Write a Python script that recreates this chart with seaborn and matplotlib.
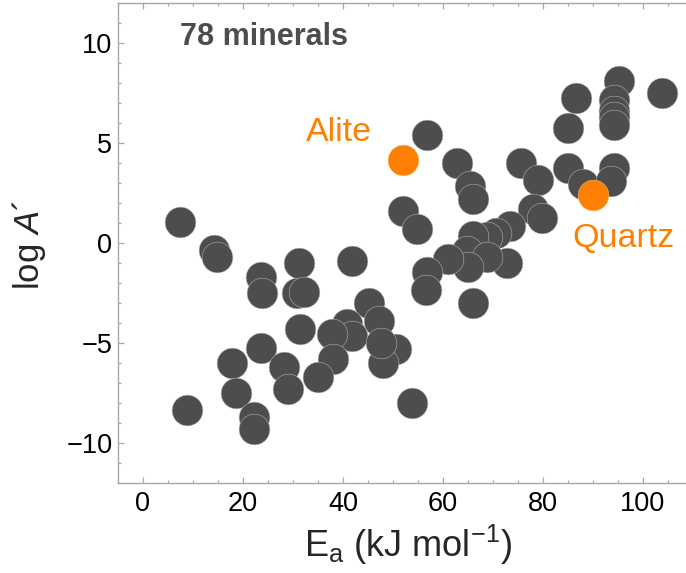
import matplotlib
matplotlib.use("Agg")
import matplotlib.pyplot as plt
import seaborn as sns
import pandas as pd
from matplotlib.ticker import MultipleLocator

# ---- data ----
mineral_ea = [7.3, 14.1, 14.7, 23.5, 23.7, 31.1, 30.8, 32.1, 41.9, 31.4,
              45.1, 47.1, 40.7, 41.8, 37.8, 50.6, 48.0, 47.5, 23.5, 17.9,
              28.2, 37.95, 34.9, 29.0, 18.6, 8.7, 53.8, 22.1, 22.2,
              56.9, 62.8, 65.5, 66.1, 52.1, 54.8, 75.5, 79.1, 84.9, 88.1,
              94.3, 93.5, 85.0, 86.5, 95.2, 94.3, 94.3, 94.3, 94.3, 103.8,
              78.1, 79.8, 73.5, 70.6, 68.8, 66.1, 64.8, 72.8, 68.8, 65.0,
              61.1, 56.9, 56.7, 66.1]
mineral_logA = [1.07, -0.35, -0.7, -1.68, -2.5, -1.02, -2.48, -2.43, -0.9, -4.3,
                -3.0, -3.92, -4.05, -4.65, -4.55, -5.3, -6.0, -5.0, -5.27, -6.0,
                -6.2, -5.8, -6.68, -7.3, -7.5, -8.35, -8.0, -8.68, -9.3,
                5.4, 3.98, 2.85, 2.2, 1.62, 0.7, 3.98, 3.15, 3.73, 2.95,
                3.77, 3.1, 5.75, 7.23, 8.1, 7.15, 6.6, 6.3, 5.9, 7.48,
                1.7, 1.23, 0.85, 0.52, 0.3, 0.36, -0.4, -1.02, -0.72, -1.22,
                -0.8, -1.45, -2.35, -3.0]
highlight_names = ["Alite", "Quartz"]
highlight_ea = [52.0, 90.1]
highlight_logA = [4.15, 2.42]

x_ticks = [0, 20, 40, 60, 80, 100]
y_ticks = [-10, -5, 0, 5, 10]

# ---- style ----
sns.set_style("ticks")
plt.rcParams["font.family"] = ["Liberation Sans", "DejaVu Sans"]
plt.rcParams["mathtext.fontset"] = "custom"
plt.rcParams["mathtext.rm"] = "Liberation Sans"
plt.rcParams["mathtext.it"] = "Liberation Sans:italic"
plt.rcParams["mathtext.bf"] = "Liberation Sans:bold"

GRAY = "#4d4d4d"
ORANGE = "#ff8000"
SPINE = "#a8a8a8"

W, H = 686, 573
fig = plt.figure(figsize=(W / 100, H / 100), dpi=100)
# axes: left spine at 118px, bottom at 483px, top at 3px; x range -5..110 (right edge cropped)
ax = fig.add_axes([118 / W, 90 / H, 575 / W, 480 / H])

df_min = pd.DataFrame({"Ea": mineral_ea, "logA": mineral_logA})
df_hi = pd.DataFrame({"Ea": highlight_ea, "logA": highlight_logA, "name": highlight_names})

sns.scatterplot(data=df_min, x="Ea", y="logA", ax=ax, s=490, color=GRAY,
                edgecolor="#bdbdbd", linewidth=0.35, zorder=3, legend=False)
sns.scatterplot(data=df_hi, x="Ea", y="logA", ax=ax, s=490, color=ORANGE,
                edgecolor="#ffc080", linewidth=0.35, zorder=4, legend=False)

ax.set_xlim(-5, 110)
ax.set_ylim(-12, 12)
ax.set_xticks(x_ticks)
ax.set_yticks(y_ticks)
ax.xaxis.set_minor_locator(MultipleLocator(5))
ax.yaxis.set_minor_locator(MultipleLocator(1))
ax.set_xlabel("")
ax.set_ylabel("")

for side in ["left", "right", "top", "bottom"]:
    ax.spines[side].set_visible(True)
    ax.spines[side].set_color(SPINE)
    ax.spines[side].set_linewidth(1.0)

ax.tick_params(which="both", direction="in", top=True, right=True,
               color=SPINE, width=0.9, labelcolor="black", labelsize=19.5)
ax.tick_params(which="major", length=4.5)
ax.tick_params(which="minor", length=2.5)
ax.tick_params(axis="x", which="major", pad=6)
ax.tick_params(axis="y", which="major", pad=4)

# annotations
ax.text(7.5, 9.9, "78 minerals", color=GRAY, fontsize=22, fontweight="bold",
        ha="left", va="baseline")
ax.text(32.5, 5.1, highlight_names[0], color=ORANGE, fontsize=24.5,
        ha="left", va="baseline")
ax.text(85.8, -0.18, highlight_names[1], color=ORANGE, fontsize=24.5,
        ha="left", va="baseline")

# axis labels
fig.text(408 / W, (H - 557) / H, r"E$_\mathrm{a}$ (kJ mol$^{-1}$)", fontsize=26,
         ha="center", va="baseline")
fig.text(29 / W, (H - 245) / H, r"log $A$´", fontsize=25, rotation=90,
         ha="center", va="center", rotation_mode="anchor")

fig.savefig("out.png", dpi=100)
